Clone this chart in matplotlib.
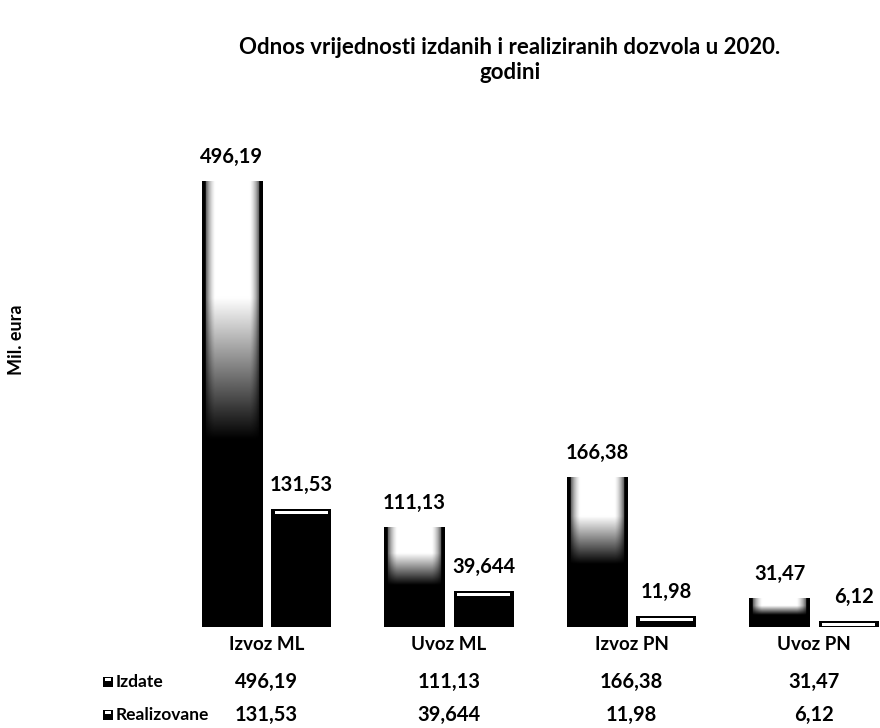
# Odnos vrijednosti izdanih i realiziranih dozvola u 2020. godini
import numpy as np
import matplotlib
matplotlib.use("Agg")
import matplotlib.pyplot as plt
from matplotlib.transforms import blended_transform_factory
from matplotlib.patches import Rectangle

plt.rcParams['font.family'] = ['Lato', 'DejaVu Sans']

# Data
categories = ["Izvoz ML", "Uvoz ML", "Izvoz PN", "Uvoz PN"]
izdate = [496.19, 111.13, 166.38, 31.47]
realizovane = [131.53, 39.644, 11.98, 6.12]
izdate_lbl = ["496,19", "111,13", "166,38", "31,47"]
realizovane_lbl = ["131,53", "39,644", "11,98", "6,12"]
series_names = ["Izdate", "Realizovane"]

fig = plt.figure(figsize=(8.8, 7.28), dpi=100)
ax = fig.add_axes([0.199, 0.139, 0.801, 0.69])

x = np.arange(len(categories))
w = 0.33
off = 0.19


def cylinder(nx=80, ny=200):
    # light in the upper middle, dark edges and bottom
    u = np.linspace(-1, 1, nx)
    v = np.linspace(0, 1, ny)[:, None]
    side = np.clip(1.15 - np.abs(u) ** 4 * 1.3, 0, 1)
    side[:5] = 0
    side[-5:] = 0
    top = np.clip((v - 0.42) / 0.32, 0, 1)
    return side[None, :] * top


for xi, h in zip(x, izdate):
    x0 = xi - off - w / 2
    ax.imshow(cylinder(), cmap="gray", vmin=0, vmax=1, origin="lower",
              extent=(x0, x0 + w, 0, h), aspect="auto", interpolation="bilinear",
              zorder=2)

for xi, h in zip(x, realizovane):
    x0 = xi + off - w / 2
    ax.add_patch(Rectangle((x0, 0), w, h, facecolor="black", zorder=2))
    hl_top = max(h - 2.2, h * 0.6)
    hl_bot = max(h - 5.5, h * 0.15)
    ax.add_patch(Rectangle((x0 + 0.02, hl_bot), w - 0.04, hl_top - hl_bot,
                           facecolor="white", edgecolor="none", zorder=3))

for xi, h, t in zip(x, izdate, izdate_lbl):
    ax.text(xi - off, h + 16, t, ha="center", va="bottom", fontsize=14.5,
            fontweight="bold")
for xi, h, t in zip(x, realizovane, realizovane_lbl):
    ax.text(xi + off + (0.03 if xi == 3 else 0), h + 16, t, ha="center",
            va="bottom", fontsize=14.5, fontweight="bold")

ax.set_xlim(-0.5, 3.36)
ax.set_ylim(0, 560)
ax.set_xticks([])
ax.set_yticks([])
for s in ax.spines.values():
    s.set_visible(False)

# category labels and data table under the plot
tr = blended_transform_factory(ax.transData, fig.transFigure)
for xi, c in zip(x, categories):
    ax.text(xi, 1 - 645 / 728, c, transform=tr, ha="center", va="center",
            fontsize=13.5, fontweight="bold")
for xi, t in zip(x, izdate_lbl):
    ax.text(xi, 1 - 682 / 728, t, transform=tr, ha="center", va="center",
            fontsize=14.5, fontweight="bold")
for xi, t in zip(x, realizovane_lbl):
    ax.text(xi, 1 - 715 / 728, t, transform=tr, ha="center", va="center",
            fontsize=14.5, fontweight="bold")

for yy, name in zip([682, 715], series_names):
    fig.patches.append(Rectangle((103 / 880, 1 - (yy + 5) / 728), 10 / 880,
                                 10 / 728, transform=fig.transFigure,
                                 facecolor="black", figure=fig))
    fig.patches.append(Rectangle((105 / 880, 1 - (yy - 1) / 728), 6 / 880,
                                 3 / 728, transform=fig.transFigure,
                                 facecolor="white", figure=fig))
    fig.text(116 / 880, 1 - yy / 728, name, ha="left", va="center",
             fontsize=12.5, fontweight="bold")

fig.text(17 / 880, 1 - 340 / 728, "Mil. eura", rotation=90, ha="center",
         va="center", fontsize=13, fontweight="bold")

fig.text(510 / 880, 1 - 37 / 728,
         "Odnos vrijednosti izdanih i realiziranih dozvola u 2020.\ngodini",
         ha="center", va="top", fontsize=16, fontweight="bold", linespacing=1.25)

fig.savefig("out.png", dpi=100)
